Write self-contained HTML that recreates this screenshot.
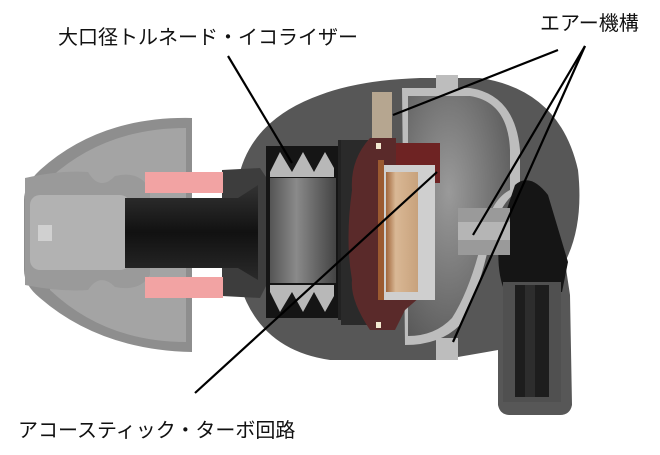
<!DOCTYPE html>
<html><head><meta charset="utf-8"><style>
html,body{margin:0;padding:0;background:#fff;width:660px;height:455px;overflow:hidden}
svg{display:block}
text{font-family:"Liberation Sans","Noto Sans CJK JP",sans-serif;font-size:20px;fill:#111}
</style></head><body>
<svg width="660" height="455" viewBox="0 0 660 455">
<defs>
<linearGradient id="tube" x1="0" y1="0" x2="0" y2="1"><stop offset="0" stop-color="#333"/><stop offset="0.5" stop-color="#111"/><stop offset="1" stop-color="#2a2a2a"/></linearGradient>
<linearGradient id="cyl" x1="0" y1="0" x2="1" y2="0"><stop offset="0" stop-color="#555"/><stop offset="0.4" stop-color="#8a8a8a"/><stop offset="0.7" stop-color="#666"/><stop offset="1" stop-color="#444"/></linearGradient>
<linearGradient id="coil" x1="0" y1="0" x2="1" y2="0"><stop offset="0" stop-color="#a0653a"/><stop offset="0.3" stop-color="#d9b895"/><stop offset="1" stop-color="#c8a27c"/></linearGradient>
<radialGradient id="cav" cx="0.4" cy="0.4" r="0.7"><stop offset="0" stop-color="#9a9a9a"/><stop offset="1" stop-color="#5a5a5a"/></radialGradient>
</defs>
<!-- ear tip -->
<path d="M192,118 Q100,116 40,170 Q24,185 24,200 L24,270 Q24,285 40,298 Q100,350 192,352 Z" fill="#8e8e8e"/>
<path d="M186,128 Q105,128 50,178 L50,290 Q105,342 186,342 Z" fill="#a4a4a4"/>
<path d="M25,178 Q60,170 88,172 Q100,192 115,176 Q140,170 150,190 L150,275 Q140,292 115,287 Q100,272 88,290 Q60,292 25,285 Z" fill="#9a9a9a"/>
<rect x="30" y="195" width="100" height="75" rx="10" fill="#b2b2b2"/>
<rect x="38" y="225" width="14" height="16" fill="#d0d0d0"/>
<!-- body -->
<path d="M238,180 Q250,120 320,95 Q360,80 420,78 L480,78 Q560,90 578,170 Q584,225 565,262 L570,295 L572,405 Q570,415 560,415 L510,415 Q500,415 498,405 L498,350 Q470,355 440,360 L330,360 Q260,350 240,285 Z" fill="#575757"/>
<!-- flange -->
<path d="M222,170 L260,168 L268,180 L268,282 L260,298 L222,296 Z" fill="#3d3d3d"/>
<!-- pink rings -->
<rect x="145" y="172" width="78" height="21" fill="#f2a3a3"/>
<rect x="145" y="277" width="78" height="21" fill="#f2a3a3"/>
<!-- nozzle tube -->
<path d="M125,198 L238,198 L258,185 L258,280 L238,268 L125,268 Z" fill="url(#tube)"/>
<!-- tornado section -->
<rect x="266" y="146" width="74" height="172" fill="#151515"/>
<rect x="270" y="150" width="64" height="27" fill="#b8b8b8"/>
<polygon points="270,150 270,172 280,152 292,172 303,152 314,172 325,152 334,168 334,150" fill="#151515"/>
<rect x="270" y="285" width="64" height="29" fill="#b8b8b8"/>
<polygon points="270,314 270,292 280,312 292,292 303,312 314,292 325,312 334,296 334,314" fill="#151515"/>
<rect x="270" y="178" width="66" height="105" fill="url(#cyl)"/>
<rect x="338" y="140" width="3" height="180" fill="#222"/>
<rect x="341" y="140" width="27" height="185" fill="#2a2a2a"/>
<!-- cavity -->
<path d="M402,88 L470,88 Q515,95 520,150 L520,190 Q500,200 490,240 Q480,290 460,325 Q440,345 405,345 Z" fill="#bdbdbd"/>
<path d="M408,96 L470,96 Q508,102 510,150 L510,190 Q490,200 482,240 Q470,290 452,318 Q435,336 408,336 Z" fill="url(#cav)"/>
<rect x="436" y="75" width="22" height="18" fill="#bdbdbd"/>
<rect x="436" y="338" width="22" height="22" fill="#bdbdbd"/>
<!-- black region right -->
<path d="M515,185 Q530,172 548,195 L568,262 L562,292 L505,292 Q495,270 500,230 Z" fill="#151515"/>
<!-- cable -->
<rect x="503" y="282" width="58" height="120" fill="#505050"/>
<rect x="515" y="285" width="34" height="112" fill="#1d1d1d"/>
<rect x="525" y="285" width="10" height="112" fill="#2d2d2d"/>
<!-- port piece -->
<rect x="458" y="208" width="52" height="47" fill="#9a9a9a"/>
<rect x="458" y="222" width="52" height="18" fill="#b5b5b5"/>
<!-- air mesh -->
<rect x="372" y="92" width="20" height="48" fill="#b6a690"/>
<!-- driver maroon -->
<path d="M370,138 L396,138 L396,143 L440,143 L440,183 L420,183 L420,297 L405,310 L395,330 L370,330 Q350,300 352,280 Q345,240 352,190 Q350,160 370,138 Z" fill="#5a2a2a"/>
<rect x="396" y="143" width="44" height="40" fill="#6e2323"/>
<rect x="380" y="165" width="55" height="135" fill="#cfcfcf"/>
<rect x="386" y="172" width="32" height="120" fill="url(#coil)"/>
<rect x="378" y="160" width="6" height="140" fill="#9b5a30"/>
<rect x="376" y="143" width="5" height="6" fill="#f3e9d0"/>
<rect x="376" y="322" width="5" height="6" fill="#f3e9d0"/>
<!-- leader lines -->
<g stroke="#000" stroke-width="2.2" fill="none">
<line x1="228" y1="56" x2="292" y2="163"/>
<line x1="195" y1="393" x2="437" y2="172"/>
<line x1="558" y1="50" x2="393" y2="115"/>
<line x1="585" y1="46" x2="473" y2="235"/>
<line x1="585" y1="46" x2="453" y2="342"/>
</g>
<!-- labels -->
<text x="58" y="44">大口径トルネード・イコライザー</text>
<text x="540" y="30">エアー機構</text>
<text x="18" y="437">アコースティック・ターボ回路</text>
</svg>
</body></html>
